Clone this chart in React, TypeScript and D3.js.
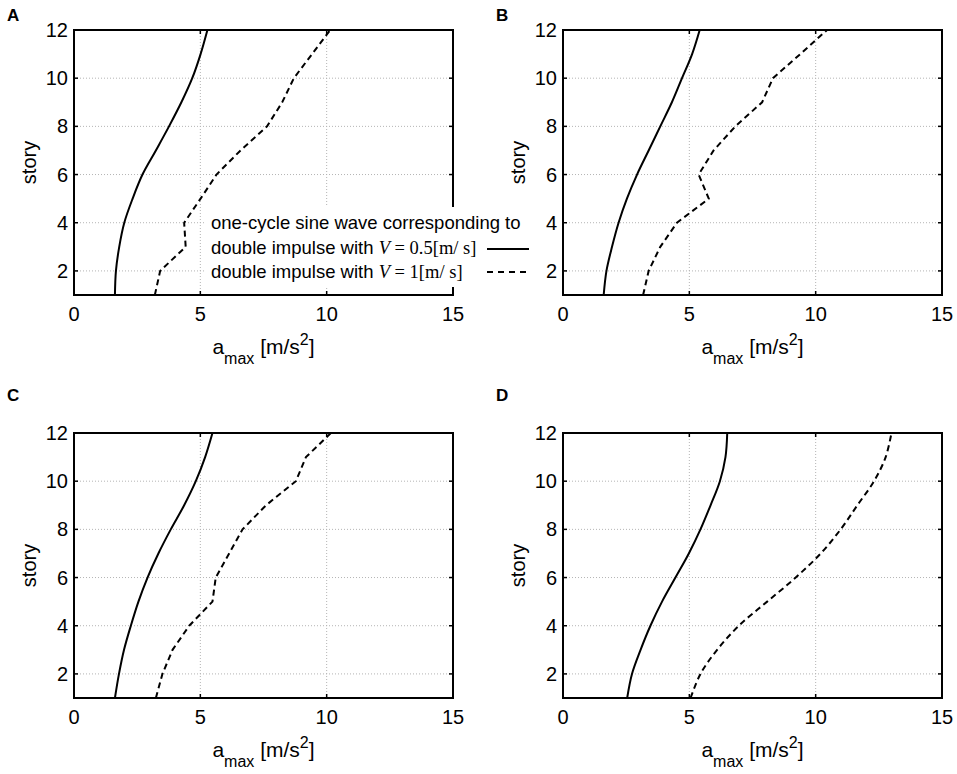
import { useRef, useEffect } from "react";
import * as d3 from "d3";

// story numbers, bottom to top
const STORIES = [1, 2, 3, 4, 5, 6, 7, 8, 9, 10, 11, 12];
const X_TICKS = [0, 5, 10, 15];
const Y_TICKS = [2, 4, 6, 8, 10, 12];
const X_GRID = [5, 10];
const Y_GRID = [2, 4, 6, 8, 10];
const PANEL_LABELS = ["A", "B", "C", "D"];

// a_max [m/s^2] per story (story 1 -> 12)
const A_SINE = [1.62, 1.66, 1.79, 1.99, 2.32, 2.71, 3.24, 3.76, 4.25, 4.68, 5.01, 5.28];
const A_IMPULSE = [3.2, 3.41, 4.42, 4.36, 5.01, 5.64, 6.59, 7.64, 8.24, 8.7, 9.42, 10.14];
const B_SINE = [1.61, 1.72, 1.94, 2.2, 2.53, 2.93, 3.39, 3.85, 4.31, 4.71, 5.11, 5.41];
const B_IMPULSE = [3.17, 3.39, 3.85, 4.51, 5.77, 5.37, 5.96, 6.82, 7.88, 8.31, 9.39, 10.45];
const C_SINE = [1.62, 1.78, 1.98, 2.25, 2.55, 2.91, 3.34, 3.83, 4.36, 4.82, 5.19, 5.48];
const C_IMPULSE = [3.24, 3.5, 3.9, 4.56, 5.48, 5.61, 6.14, 6.67, 7.6, 8.78, 9.18, 10.17];
const D_SINE = [2.54, 2.73, 3.07, 3.46, 3.92, 4.45, 4.98, 5.44, 5.84, 6.21, 6.43, 6.5];
const D_IMPULSE = [5.05, 5.44, 6.1, 6.96, 8.08, 9.21, 10.2, 10.99, 11.65, 12.31, 12.77, 13.0];

const SINE = [A_SINE, B_SINE, C_SINE, D_SINE];
const IMPULSE = [A_IMPULSE, B_IMPULSE, C_IMPULSE, D_IMPULSE];
// only the D impulse response is drawn as a smooth curve
const IMPULSE_SMOOTH = [false, false, false, true];

const SANS = "'Liberation Sans', Arial, sans-serif";
const SERIF = "'Liberation Serif', 'Times New Roman', serif";

export default function App() {
  const svgRef = useRef<SVGSVGElement>(null);

  useEffect(() => {
    if (!svgRef.current) return;
    const svg = d3.select(svgRef.current);
    svg.selectAll("*").remove();

    const width = 957;
    const height = 774;
    svg.attr("width", width).attr("height", height);

    // plot boxes (left, right) / (top, bottom)
    const cols = [
      [74, 453],
      [563, 942],
    ];
    const rows = [
      [30, 295],
      [433, 698],
    ];

    PANEL_LABELS.forEach((label, i) => {
      const [x0, x1] = cols[i % 2];
      const [y0, y1] = rows[Math.floor(i / 2)];

      const x = d3.scaleLinear().domain([0, 15]).range([x0, x1]);
      const y = d3.scaleLinear().domain([1, 12]).range([y1, y0]);

      const g = svg.append("g");

      // dotted grid
      X_GRID.forEach((v) => {
        g.append("line")
          .attr("x1", x(v))
          .attr("x2", x(v))
          .attr("y1", y0)
          .attr("y2", y1)
          .attr("stroke", "#b4b4b4")
          .attr("stroke-width", 1)
          .attr("stroke-dasharray", "1,2");
      });
      Y_GRID.forEach((v) => {
        g.append("line")
          .attr("x1", x0)
          .attr("x2", x1)
          .attr("y1", y(v))
          .attr("y2", y(v))
          .attr("stroke", "#b4b4b4")
          .attr("stroke-width", 1)
          .attr("stroke-dasharray", "1,2");
      });

      // curves
      const smooth = d3
        .line<number>()
        .x((d) => x(d))
        .y((_, j) => y(STORIES[j]))
        .curve(d3.curveCatmullRom.alpha(0.5));
      const straight = d3
        .line<number>()
        .x((d) => x(d))
        .y((_, j) => y(STORIES[j]));

      g.append("path")
        .attr("d", smooth(SINE[i]))
        .attr("fill", "none")
        .attr("stroke", "#000")
        .attr("stroke-width", 2)
        .attr("stroke-linejoin", "round");

      g.append("path")
        .attr("d", (IMPULSE_SMOOTH[i] ? smooth : straight)(IMPULSE[i]))
        .attr("fill", "none")
        .attr("stroke", "#000")
        .attr("stroke-width", 2)
        .attr("stroke-dasharray", "6,4");

      // inward ticks
      const tl = 4;
      X_TICKS.slice(1, -1).forEach((v) => {
        g.append("line").attr("x1", x(v)).attr("x2", x(v)).attr("y1", y1).attr("y2", y1 - tl).attr("stroke", "#000").attr("stroke-width", 1.5);
        g.append("line").attr("x1", x(v)).attr("x2", x(v)).attr("y1", y0).attr("y2", y0 + tl).attr("stroke", "#000").attr("stroke-width", 1.5);
      });
      Y_TICKS.slice(0, -1).forEach((v) => {
        g.append("line").attr("x1", x0).attr("x2", x0 + tl).attr("y1", y(v)).attr("y2", y(v)).attr("stroke", "#000").attr("stroke-width", 1.5);
        g.append("line").attr("x1", x1).attr("x2", x1 - tl).attr("y1", y(v)).attr("y2", y(v)).attr("stroke", "#000").attr("stroke-width", 1.5);
      });

      // frame
      g.append("rect")
        .attr("x", x0)
        .attr("y", y0)
        .attr("width", x1 - x0)
        .attr("height", y1 - y0)
        .attr("fill", "none")
        .attr("stroke", "#000")
        .attr("stroke-width", 2);

      // tick labels
      X_TICKS.forEach((v) => {
        g.append("text")
          .attr("x", x(v))
          .attr("y", y1 + 26)
          .attr("text-anchor", "middle")
          .attr("font-family", SANS)
          .attr("font-size", "20px")
          .text(v);
      });
      Y_TICKS.forEach((v) => {
        g.append("text")
          .attr("x", x0 - 6)
          .attr("y", y(v) + 7)
          .attr("text-anchor", "end")
          .attr("font-family", SANS)
          .attr("font-size", "20px")
          .text(v);
      });

      // y axis label
      g.append("text")
        .attr("transform", `translate(${x0 - 38},${(y0 + y1) / 2}) rotate(-90)`)
        .attr("text-anchor", "middle")
        .attr("font-family", SANS)
        .attr("font-size", "20px")
        .text("story");

      // x axis label
      const xl = g
        .append("text")
        .attr("x", (x0 + x1) / 2)
        .attr("y", y1 + 59)
        .attr("text-anchor", "middle")
        .attr("font-family", SANS)
        .attr("font-size", "21px");
      xl.append("tspan").text("a");
      xl.append("tspan").attr("dy", 10).attr("font-size", "16px").text("max");
      xl.append("tspan").attr("dy", -10).text("\u00a0[m/s");
      xl.append("tspan").attr("dy", -9).attr("font-size", "16px").text("2");
      xl.append("tspan").attr("dy", 9).text("]");

      // panel letter
      svg
        .append("text")
        .attr("x", x0 - 67)
        .attr("y", y0 - (i < 2 ? 9 : 32))
        .attr("font-family", SANS)
        .attr("font-size", "17px")
        .attr("font-weight", "bold")
        .text(label);
    });

    // legend (drawn over panel A)
    const legend = svg.append("g");
    legend
      .append("rect")
      .attr("x", 205)
      .attr("y", 207)
      .attr("width", 328)
      .attr("height", 80)
      .attr("fill", "#fff");

    legend
      .append("text")
      .attr("x", 211)
      .attr("y", 229)
      .attr("font-family", SANS)
      .attr("font-size", "18.5px")
      .text("one-cycle sine wave corresponding to");

    const rowTexts = ["0.5", "1"];
    rowTexts.forEach((v, k) => {
      const t = legend
        .append("text")
        .attr("x", 211)
        .attr("y", 254 + k * 24)
        .attr("font-family", SANS)
        .attr("font-size", "18.5px");
      t.append("tspan").text("double impulse with ");
      t.append("tspan")
        .attr("font-family", SERIF)
        .attr("font-style", "italic")
        .attr("font-size", "18.5px")
        .text("V");
      t.append("tspan")
        .attr("font-family", SERIF)
        .attr("font-size", "18.5px")
        .text(` = ${v}[m/ s]`);
    });

    legend
      .append("line")
      .attr("x1", 487)
      .attr("x2", 529)
      .attr("y1", 249)
      .attr("y2", 249)
      .attr("stroke", "#000")
      .attr("stroke-width", 2);
    legend
      .append("line")
      .attr("x1", 487)
      .attr("x2", 529)
      .attr("y1", 272)
      .attr("y2", 272)
      .attr("stroke", "#000")
      .attr("stroke-width", 2)
      .attr("stroke-dasharray", "6,5");
  }, []);

  return (
    <div style={{ position: "absolute", left: 0, top: 0, background: "#fff" }}>
      <svg ref={svgRef} style={{ display: "block" }} />
    </div>
  );
}
